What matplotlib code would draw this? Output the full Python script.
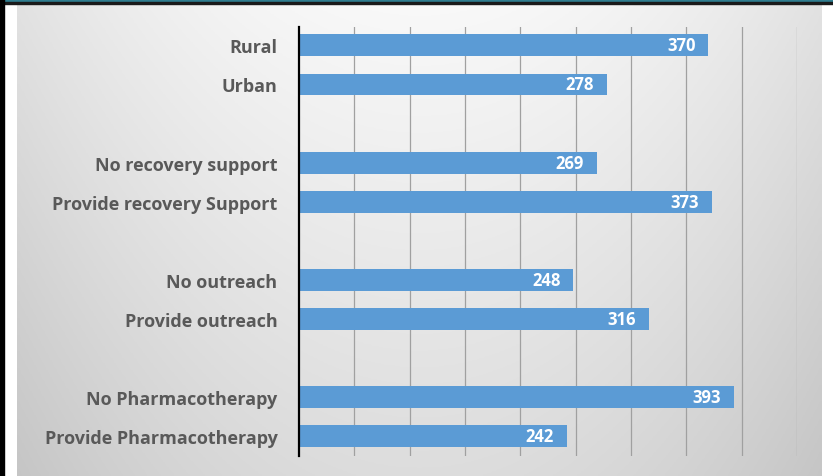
import matplotlib
matplotlib.use('Agg')
import matplotlib.pyplot as plt
import numpy as np

categories = ['Rural', 'Urban', 'No recovery support', 'Provide recovery Support',
              'No outreach', 'Provide outreach', 'No Pharmacotherapy', 'Provide Pharmacotherapy']
values = [370, 278, 269, 373, 248, 316, 393, 242]
slots = [0, 1, 3, 4, 6, 7, 9, 10]

W, H = 833, 477
fig = plt.figure(figsize=(W / 100, H / 100), dpi=100)
fig.patch.set_facecolor('white')

# grey gradient backdrop
bg = fig.add_axes([17 / W, 0, (822 - 17) / W, 1 - 5 / H])
xn, yn = np.meshgrid(np.linspace(0, 1, 200), np.linspace(0, 1, 200))
v = 0.975 - 0.11 * yn - 0.09 * ((xn - 0.5) * 2) ** 2
bg.imshow(np.dstack([v, v, v]), aspect='auto', extent=(0, 1, 1, 0))
bg.axis('off')

# frame bits
fig.patches.append(plt.Rectangle((0, 1 - 3 / H), 1, 3 / H, transform=fig.transFigure,
                                 color='#2f7d8f', zorder=5))
fig.patches.append(plt.Rectangle((0, 1 - 5 / H), 1, 2 / H, transform=fig.transFigure,
                                 color='#1a1a1a', zorder=5))
fig.patches.append(plt.Rectangle((0, 0), 4 / W, 1, transform=fig.transFigure,
                                 color='black', zorder=5))

ax = fig.add_axes([299 / W, 1 - 457 / H, (797 - 299) / W, (457 - 28) / H])
ax.set_facecolor('none')
ax.barh(slots, values, height=0.56, color='#5b9bd5', zorder=3)
ax.set_xlim(0, 450)
ax.set_ylim(10.5, -0.47)
ax.set_xticks(range(50, 451, 50))
ax.xaxis.grid(True, color='#a0a0a0', lw=0.9, zorder=1)
ax.tick_params(axis='x', length=0, labelbottom=False)
ax.tick_params(axis='y', length=0, pad=15.5)
ax.set_yticks(slots)
ax.set_yticklabels(categories, fontfamily='Open Sans', fontweight='bold', fontsize=13,
                   color='#595959')
for s in ['top', 'right', 'bottom']:
    ax.spines[s].set_visible(False)
ax.spines['left'].set_linewidth(1.6)
ax.spines['left'].set_color('black')
ax.spines['left'].set_zorder(4)

for s, val in zip(slots, values):
    ax.annotate(str(val), (val, s), xytext=(-13, 0), textcoords='offset pixels',
                ha='right', va='center', color='white', fontweight='bold',
                fontfamily='Open Sans', fontsize=12, zorder=4)

fig.savefig('out.png', dpi=100)
